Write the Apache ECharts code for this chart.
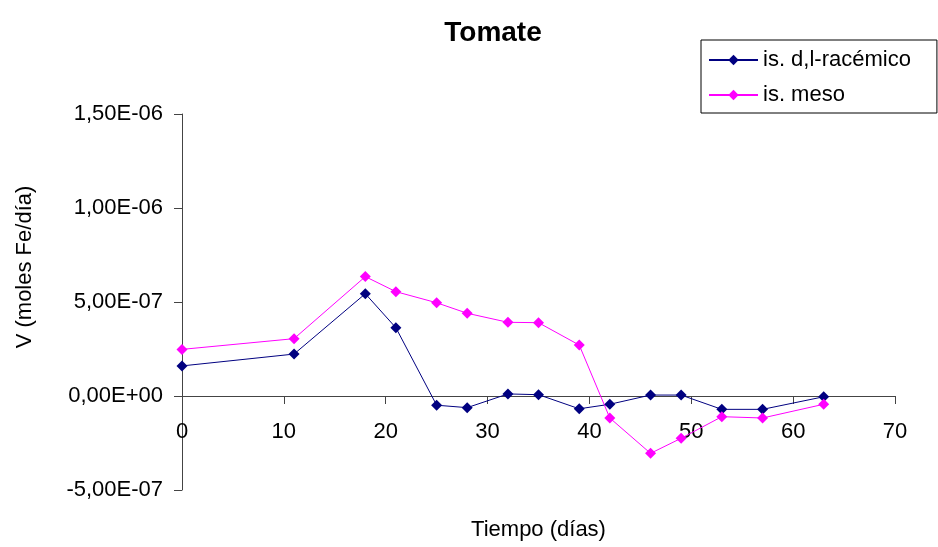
<!DOCTYPE html>
<html>
<head>
<meta charset="utf-8">
<title>Tomate</title>
<script src="https://cdn.jsdelivr.net/npm/echarts@6/dist/echarts.min.js"></script>
<style>
  html, body { margin: 0; padding: 0; background: #ffffff; }
  #chart { width: 938px; height: 547px; }
</style>
</head>
<body>
<div id="chart"></div>
<script>
// tiempo (días)
const dias = [0, 11, 18, 21, 25, 28, 32, 35, 39, 42, 46, 49, 53, 57, 63];
// V (moles Fe/día)
const racemico = [1.60e-7, 2.23e-7, 5.44e-7, 3.63e-7, -0.49e-7, -0.62e-7, 0.11e-7, 0.07e-7,
  -0.68e-7, -0.44e-7, 0.05e-7, 0.05e-7, -0.71e-7, -0.71e-7, -0.04e-7];
const meso = [2.48e-7, 3.05e-7, 6.35e-7, 5.55e-7, 4.96e-7, 4.40e-7, 3.92e-7, 3.90e-7,
  2.71e-7, -1.17e-7, -3.05e-7, -2.25e-7, -1.10e-7, -1.17e-7, -0.44e-7];
const serieNames = ['is. d,l-racémico', 'is. meso'];

const font = 'Liberation Sans, Arial, sans-serif';

// 1,50E-06 style (Excel, comma as decimal mark)
function excelSci(v) {
  const s = Number(v).toExponential(2);
  const parts = s.split('e');
  let exp = parseInt(parts[1], 10);
  const sign = exp < 0 ? '-' : '+';
  exp = Math.abs(exp);
  return parts[0].replace('.', ',') + 'E' + sign + (exp < 10 ? '0' + exp : exp);
}

function pairs(ys) {
  return dias.map((d, i) => [d, ys[i]]);
}

const chart = echarts.init(document.getElementById('chart'));

// labels and name are laid out from the grid edge, pull them up to sit under the zero line
const option = {
  animation: false,
  textStyle: { fontFamily: font },
  title: {
    text: 'Tomate',
    left: 488,
    top: 14,
    textAlign: 'center',
    textStyle: { fontFamily: font, fontSize: 28, fontWeight: 'bold', color: '#000' }
  },
  legend: {
    orient: 'vertical',
    left: 701,
    top: 40,
    padding: [9, 26, 7, 7],
    itemGap: 13,
    itemWidth: 49,
    itemHeight: 13,
    borderColor: '#000',
    borderWidth: 1,
    borderRadius: 0,
    textStyle: { fontFamily: font, fontSize: 22, lineHeight: 22, color: '#000' },
    data: serieNames
  },
  grid: { left: 182, right: 43, top: 114, bottom: 57, containLabel: false, outerBoundsMode: 'none' },
  xAxis: {
    type: 'value',
    min: 0,
    max: 70,
    interval: 10,
    name: 'Tiempo (días)',
    nameLocation: 'middle',
    nameGap: 29,
    nameTextStyle: { fontFamily: font, fontSize: 22, color: '#000' },
    axisLine: { onZero: true, lineStyle: { color: '#444', width: 1 } },
    axisTick: { show: true, length: 8, lineStyle: { color: '#444' } },
    axisLabel: { margin: -69, fontFamily: font, fontSize: 22, color: '#000' },
    splitLine: { show: false }
  },
  yAxis: {
    type: 'value',
    min: -5e-7,
    max: 1.5e-6,
    interval: 5e-7,
    axisLine: { show: true, lineStyle: { color: '#444', width: 1 } },
    axisTick: { show: true, length: 8, lineStyle: { color: '#444' } },
    axisLabel: { margin: 19, fontFamily: font, fontSize: 22, color: '#000', formatter: excelSci },
    splitLine: { show: false }
  },
  graphic: [{
    type: 'text',
    x: 25,
    y: 267,
    rotation: Math.PI / 2,
    style: {
      text: 'V (moles Fe/día)',
      font: '22px ' + font,
      fill: '#000',
      align: 'center',
      verticalAlign: 'middle'
    }
  }],
  series: [
    {
      name: serieNames[0],
      type: 'line',
      data: pairs(racemico),
      symbol: 'diamond',
      symbolSize: 11,
      color: '#000080',
      lineStyle: { width: 1, color: '#000080' },
      itemStyle: { color: '#000080' }
    },
    {
      name: serieNames[1],
      type: 'line',
      data: pairs(meso),
      symbol: 'diamond',
      symbolSize: 11,
      color: '#ff00ff',
      lineStyle: { width: 1, color: '#ff00ff' },
      itemStyle: { color: '#ff00ff' }
    }
  ]
};

chart.setOption(option);
</script>
</body>
</html>
